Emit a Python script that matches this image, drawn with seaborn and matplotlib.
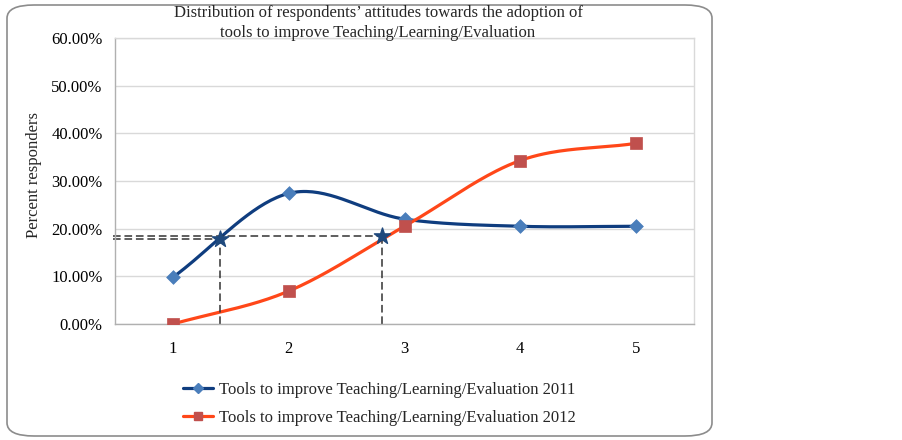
import numpy as np
import pandas as pd
import matplotlib as mpl
mpl.use('Agg')
import matplotlib.pyplot as plt
from matplotlib.patches import FancyBboxPatch
import seaborn as sns

categories = [1, 2, 3, 4, 5]
tools_2011 = [9.8, 27.4, 22.0, 20.5, 20.5]
tools_2012 = [0.0, 6.9, 20.5, 34.3, 37.9]
# the two read-off points marked with stars
star_x = [1.405, 2.81]
star_y = [17.8, 18.4]

label_2011 = "Tools to improve Teaching/Learning/Evaluation 2011"
label_2012 = "Tools to improve Teaching/Learning/Evaluation 2012"
title = "Distribution of respondents\u2019 attitudes towards the adoption of\ntools to improve Teaching/Learning/Evaluation"


def smooth(x, y, n=40):
    # excel-like smoothed line (catmull-rom through the points)
    x = np.asarray(x, float); y = np.asarray(y, float)
    px = np.concatenate([[2*x[0]-x[1]], x, [2*x[-1]-x[-2]]])
    py = np.concatenate([[2*y[0]-y[1]], y, [2*y[-1]-y[-2]]])
    xs, ys = [], []
    for i in range(1, len(px)-2):
        t = np.linspace(0, 1, n)
        for p, out in ((px, xs), (py, ys)):
            p0, p1, p2, p3 = p[i-1], p[i], p[i+1], p[i+2]
            out.extend(0.5*((2*p1) + (-p0+p2)*t + (2*p0-5*p1+4*p2-p3)*t**2 + (-p0+3*p1-3*p2+p3)*t**3))
    return np.array(xs), np.array(ys)


sns.set_style("white")
plt.rcParams['font.family'] = ['Liberation Serif', 'DejaVu Serif']

fig = plt.figure(figsize=(9.02, 4.40), dpi=100)
ax = fig.add_axes([115/902, 1-324/440, (694-115)/902, (324-38)/440])

border = FancyBboxPatch((7/902, 4/440), (712-7)/902, (435-4)/440,
                        boxstyle="round,pad=0,rounding_size=0.03",
                        transform=fig.transFigure, fill=False,
                        edgecolor="#8c8c8c", linewidth=1.2)
fig.patches.append(border)

for vals, lc, mc, mk, ms, lab in [
        (tools_2011, "#0f3d7f", "#4a7ebb", "D", 7, label_2011),
        (tools_2012, "#ff4719", "#c0504d", "s", 8, label_2012)]:
    sx, sy = smooth(categories, vals)
    sns.lineplot(x=sx, y=sy, sort=False, color=lc, linewidth=2.3, ax=ax)
    sns.scatterplot(x=categories, y=vals, marker=mk, s=ms**2, color=mc,
                    edgecolor=mc, linewidth=0.5, ax=ax, zorder=5)
    ax.plot([], [], color=lc, linewidth=2.3, marker=mk, markersize=ms*0.75,
            markerfacecolor=mc, markeredgecolor=mc, label=lab)

# dashed guide lines to the star points
for xs_, ys_ in zip(star_x, star_y):
    ax.plot([0.48, xs_], [ys_, ys_], ls=(0, (5, 2.5)), color="#333333", lw=1.1, clip_on=False)
    ax.plot([xs_, xs_], [0, ys_], ls=(0, (5, 2.5)), color="#333333", lw=1.1)
sns.scatterplot(x=star_x, y=star_y, marker="*", s=150, color="#1f497d",
                edgecolor="#1f497d", ax=ax, zorder=6)

ax.set_xlim(0.5, 5.5)
ax.set_ylim(0, 60)
ax.set_xticks(categories)
ax.set_yticks(np.arange(0, 61, 10))
ax.set_yticklabels([f"{v:.2f}%" for v in np.arange(0, 61, 10)])
ax.yaxis.grid(True, color="#d9d9d9", linewidth=1)
ax.xaxis.grid(False)
for sp in ax.spines.values():
    sp.set_color("#d9d9d9")
    sp.set_linewidth(1)
ax.spines['left'].set_color("#b0b0b0")
ax.spines['bottom'].set_color("#b0b0b0")
ax.tick_params(axis='y', length=0, labelsize=12, pad=9, colors="#000000")
ax.tick_params(axis='x', length=0, labelsize=12, pad=12, colors="#000000")
ax.set_ylabel("Percent responders", fontsize=12)
ax.yaxis.set_label_coords(-0.126, 0.52)
fig.text(378/902, 1-23/440, title, fontsize=12, ha="center", va="center",
         linespacing=1.35)

ax.legend(loc="upper left", bbox_to_anchor=(168/902, 1-367/440),
          bbox_transform=fig.transFigure, frameon=False, fontsize=12,
          handlelength=1.8, handletextpad=0.36, labelspacing=0.7)

fig.savefig("out.png", dpi=100)
